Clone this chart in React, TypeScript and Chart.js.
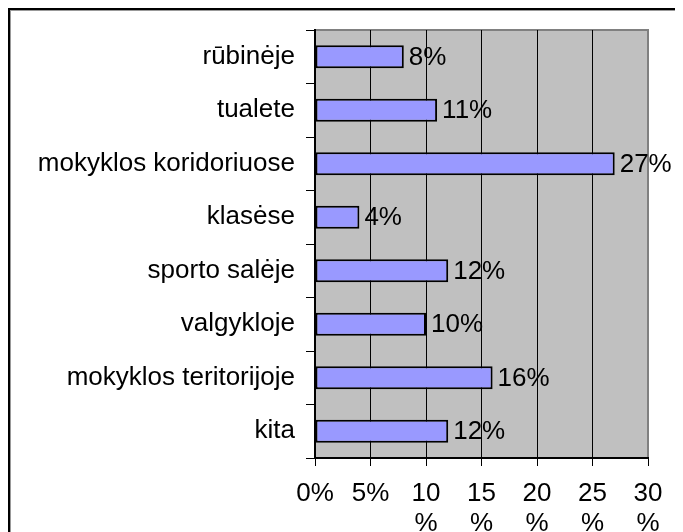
import React, { useEffect, useRef } from "react";
import { Chart, registerables } from "chart.js";

Chart.register(...registerables);

const categories = [
  "rūbinėje",
  "tualete",
  "mokyklos koridoriuose",
  "klasėse",
  "sporto salėje",
  "valgykloje",
  "mokyklos teritorijoje",
  "kita",
];
const values = [8, 11, 27, 4, 12, 10, 16, 12];
const xTicks = [0, 5, 10, 15, 20, 25, 30];

const FONT = "'Liberation Sans', Arial, sans-serif";

const plotBg = {
  id: "plotBg",
  beforeDraw(chart: any) {
    const { ctx, chartArea: a } = chart;
    ctx.save();
    ctx.fillStyle = "#c0c0c0";
    ctx.fillRect(a.left, a.top, a.right - a.left, a.bottom - a.top);
    ctx.strokeStyle = "#808080";
    ctx.lineWidth = 2;
    ctx.beginPath();
    ctx.moveTo(a.left, a.top);
    ctx.lineTo(a.right, a.top);
    ctx.lineTo(a.right, a.bottom);
    ctx.stroke();
    ctx.restore();
  },
};

const dataLabels = {
  id: "dataLabels",
  afterDatasetsDraw(chart: any) {
    const { ctx } = chart;
    const meta = chart.getDatasetMeta(0);
    ctx.save();
    ctx.fillStyle = "#000";
    ctx.font = `26px ${FONT}`;
    ctx.textAlign = "left";
    ctx.textBaseline = "middle";
    meta.data.forEach((el: any, i: number) => {
      ctx.fillText(values[i] + "%", el.x + 5, el.y + 1);
    });
    ctx.restore();
  },
};

export default function App() {
  const ref = useRef<HTMLCanvasElement>(null);
  useEffect(() => {
    if (!ref.current) return;
    const chart = new Chart(ref.current, {
      type: "bar",
      data: {
        labels: categories,
        datasets: [
          {
            data: values,
            backgroundColor: "#9999ff",
            borderColor: "#000",
            borderWidth: 2,
            borderSkipped: false,
            barPercentage: 0.43,
            categoryPercentage: 1,
          },
        ],
      },
      options: {
        indexAxis: "y",
        animation: false,
        responsive: false,
        maintainAspectRatio: false,
        layout: { padding: { left: 0, top: 19, right: 63, bottom: 0 } },
        plugins: { legend: { display: false }, tooltip: { enabled: false } },
        scales: {
          x: {
            min: 0,
            max: 30,
            afterBuildTicks: (s: any) => {
              s.ticks = xTicks.map((v) => ({ value: v }));
            },
            afterFit: (s: any) => {
              s.height = 113;
              s.paddingLeft = 0;
              s.paddingRight = 0;
            },
            border: { color: "#000", width: 2 },
            grid: {
              color: (c: any) => (c.tick && c.tick.value === 30 ? "#808080" : "#000"),
              tickColor: "#000",
              tickLength: 8,
              lineWidth: 1,
            },
            ticks: {
              color: "#000",
              font: { family: FONT, size: 26, lineHeight: 1.15 },
              padding: 13,
              maxRotation: 0,
              autoSkip: false,
              callback: (v: any) => (Number(v) >= 10 ? [String(v), "%"] : v + "%"),
            },
          },
          y: {
            offset: true,
            afterFit: (s: any) => {
              s.width = 304;
              s.paddingTop = 0;
              s.paddingBottom = 0;
            },
            border: { color: "#000", width: 2 },
            grid: {
              offset: true,
              drawOnChartArea: false,
              tickColor: "#000",
              tickLength: 9,
              lineWidth: 1,
            },
            ticks: {
              color: "#000",
              font: { family: FONT, size: 26 },
              padding: 11,
              autoSkip: false,
            },
          },
        },
      },
      plugins: [plotBg, dataLabels],
    });
    return () => chart.destroy();
  }, []);

  return (
    <div style={{ width: 675, height: 524, overflow: "hidden" }}>
      <div
        style={{
          width: 720,
          height: 580,
          border: "2px solid #000",
          boxShadow: "inset 1px 1px 0 #999",
          padding: 1,
          boxSizing: "content-box",
          background: "#fff",
        }}
      >
        <canvas ref={ref} width={700} height={560} style={{ display: "block" }} />
      </div>
    </div>
  );
}
